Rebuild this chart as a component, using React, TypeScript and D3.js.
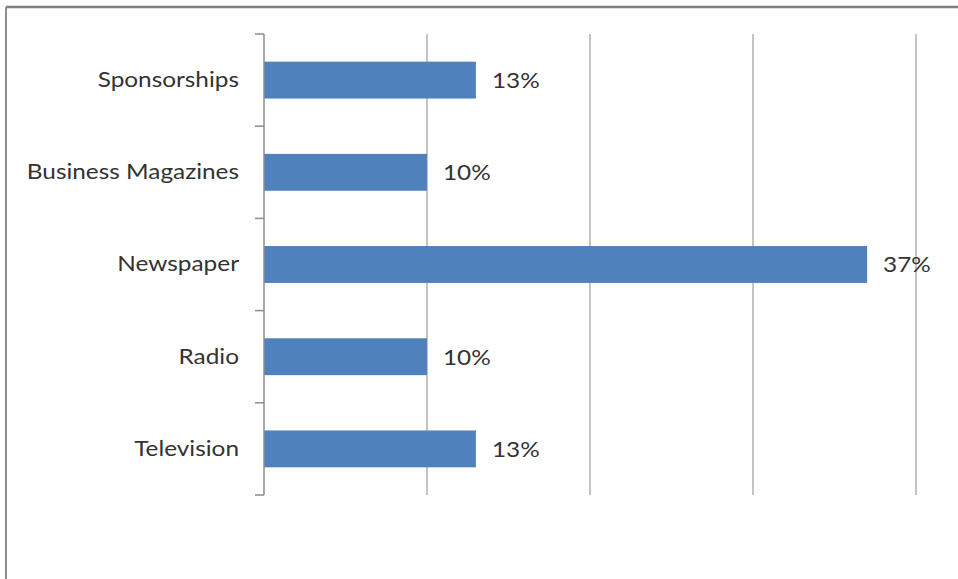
import React from "react";
import * as d3 from "d3";

const categories = ["Sponsorships", "Business Magazines", "Newspaper", "Radio", "Television"];
const values = [13, 10, 37, 10, 13];
const xTicks = [0, 10, 20, 30, 40];

const W = 958;
const H = 579;
const left = 264;
const right = 916;
const top = 34;
const bottom = 495;

export default function App() {
  const x = d3.scaleLinear().domain([0, 40]).range([left, right]);
  const y = d3.scaleBand<string>().domain(categories).range([top, bottom]).paddingInner(0.6).paddingOuter(0.3);
  const step = y.step();
  const font = "Lato, 'Noto Sans', sans-serif";
  const sx = 1.16;
  return (
    <svg width={W} height={H} style={{ position: "absolute", left: 0, top: 0, display: "block" }}>
      <rect x={0} y={0} width={W} height={H} fill="#fff" />
      <line x1={6} x2={W} y1={7} y2={7} stroke="#7f7f7f" strokeWidth={2.5} />
      <line x1={6} x2={6} y1={7} y2={H} stroke="#8f8f8f" strokeWidth={2} />
      {xTicks.slice(1).map((t) => (
        <line key={t} x1={x(t)} x2={x(t)} y1={top} y2={bottom} stroke="#b0b0b0" strokeWidth={1.5} />
      ))}
      {categories.map((c, i) => (
        <rect key={c} x={x(0)} y={y(c)!} width={x(values[i]) - x(0)} height={y.bandwidth()} fill="#4f81bd" />
      ))}
      <line x1={left} x2={left} y1={top} y2={bottom} stroke="#8c8c8c" strokeWidth={1.5} />
      {d3.range(categories.length + 1).map((i) => (
        <line key={i} x1={left - 9} x2={left} y1={top + i * step} y2={top + i * step} stroke="#8c8c8c" strokeWidth={1.5} />
      ))}
      {categories.map((c) => (
        <text key={c} transform={`translate(239,${y(c)! + y.bandwidth() / 2 - 1}) scale(${sx},1)`} textAnchor="end" dominantBaseline="central" fontFamily={font} fontSize={21} fill="#333">
          {c}
        </text>
      ))}
      {categories.map((c, i) => (
        <text key={c} transform={`translate(${x(values[i]) + 16},${y(c)! + y.bandwidth() / 2}) scale(${sx},1)`} dominantBaseline="central" fontFamily={font} fontSize={21} fill="#333">
          {values[i]}%
        </text>
      ))}
    </svg>
  );
}
